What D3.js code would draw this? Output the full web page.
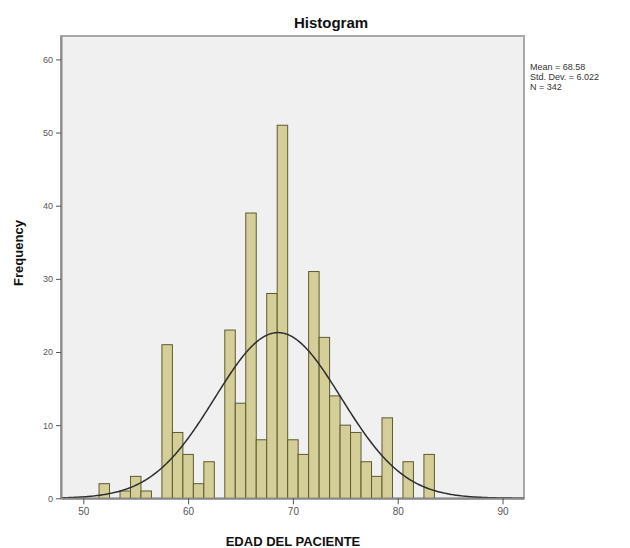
<!DOCTYPE html>
<html>
<head>
<meta charset="utf-8">
<script src="https://cdn.jsdelivr.net/npm/d3@7"></script>
<style>
  html, body { margin: 0; padding: 0; background: #ffffff; }
  svg { display: block; font-family: "Liberation Sans", Arial, sans-serif; }
</style>
</head>
<body>
<svg id="chart" width="630" height="548"></svg>
<script>
// ---- data ----
const binCenters = [52, 54, 55, 56, 58, 59, 60, 61, 62, 64, 65, 66, 67, 68, 69, 70, 71, 72, 73, 74, 75, 76, 77, 78, 79, 81, 83];
const binCounts  = [2, 1, 3, 1, 21, 9, 6, 2, 5, 23, 13, 39, 8, 28, 51, 8, 6, 31, 22, 14, 10, 9, 5, 3, 11, 5, 6];
const binWidth = 1;
const xTicks = [50, 60, 70, 80, 90];
const yTicks = [0, 10, 20, 30, 40, 50, 60];
const statMean = 68.58;
const statSD = 6.022;
const statN = 342;
const statLines = ["Mean = 68.58", "Std. Dev. = 6.022", "N = 342"];
const titleText = "Histogram";
const xTitle = "EDAD DEL PACIENTE";
const yTitle = "Frequency";

(function () {
// ---- layout ----
const svg = d3.select("#chart");
const pLeft = 61, pRight = 524, pTop = 36, pBottom = 498.3;

const x = d3.scaleLinear().domain([47.87, 92.05]).range([pLeft, pRight]);
const y = d3.scaleLinear().domain([0, 63.2]).range([pBottom, pTop]);

// plot background + frame
svg.append("rect")
  .attr("x", pLeft).attr("y", pTop)
  .attr("width", pRight - pLeft).attr("height", pBottom - pTop)
  .attr("fill", "#f0f0f0")
  .attr("stroke", "#a8a8a8").attr("stroke-width", 2);

// bars
svg.append("g").selectAll("rect")
  .data(binCenters.map((c, i) => ({c, n: binCounts[i]})))
  .join("rect")
  .attr("x", d => x(d.c - binWidth / 2))
  .attr("width", d => x(d.c + binWidth / 2) - x(d.c - binWidth / 2))
  .attr("y", d => y(d.n))
  .attr("height", d => y(0) - y(d.n))
  .attr("fill", "#d4cf98")
  .attr("stroke", "#5e5a30")
  .attr("stroke-width", 1);

// normal curve from reported statistics
const [dx0, dx1] = x.domain();
const curvePts = d3.range(0, 401).map(i => {
  const v = dx0 + (dx1 - dx0) * i / 400;
  const z = (v - statMean) / statSD;
  return [v, statN * binWidth / (statSD * Math.sqrt(2 * Math.PI)) * Math.exp(-0.5 * z * z)];
});
svg.append("path")
  .attr("d", d3.line().x(d => x(d[0])).y(d => y(d[1]))(curvePts))
  .attr("fill", "none")
  .attr("stroke", "#2e2e2e")
  .attr("stroke-width", 1.5);

// axes
const yAxis = d3.axisLeft(y).tickValues(yTicks).tickSizeInner(5).tickSizeOuter(0).tickPadding(3).tickFormat(d3.format("d"));
const gy = svg.append("g").attr("transform", `translate(${pLeft},0)`).call(yAxis);
gy.select(".domain").attr("stroke", "#8a8a8a").attr("stroke-width", 2);
gy.selectAll(".tick line").attr("stroke", "#555");
gy.selectAll(".tick text").attr("fill", "#555").style("font-size", "9px");

const xAxis = d3.axisBottom(x).tickValues(xTicks).tickSizeInner(6).tickSizeOuter(0).tickPadding(4).tickFormat(d3.format("d"));
const gx = svg.append("g").attr("transform", `translate(0,${pBottom})`).call(xAxis);
gx.select(".domain").attr("stroke", "#8a8a8a").attr("stroke-width", 2);
gx.selectAll(".tick line").attr("stroke", "#555");
gx.selectAll(".tick text").attr("fill", "#555").style("font-size", "10px");

// titles
svg.append("text")
  .attr("x", 331).attr("y", 28)
  .attr("text-anchor", "middle")
  .style("font-size", "15px").style("font-weight", "bold")
  .attr("fill", "#111")
  .text(titleText);

svg.append("text")
  .attr("x", 293).attr("y", 546)
  .attr("text-anchor", "middle")
  .style("font-size", "13px").style("font-weight", "bold")
  .attr("fill", "#111")
  .text(xTitle);

svg.append("text")
  .attr("transform", "translate(23,253) rotate(-90)")
  .attr("text-anchor", "middle")
  .style("font-size", "13px").style("font-weight", "bold")
  .attr("fill", "#111")
  .text(yTitle);

// statistics box
svg.append("g").selectAll("text")
  .data(statLines)
  .join("text")
  .attr("x", 530)
  .attr("y", (d, i) => 70 + i * 10)
  .style("font-size", "9px")
  .attr("fill", "#333")
  .text(d => d);
})();
</script>
</body>
</html>
